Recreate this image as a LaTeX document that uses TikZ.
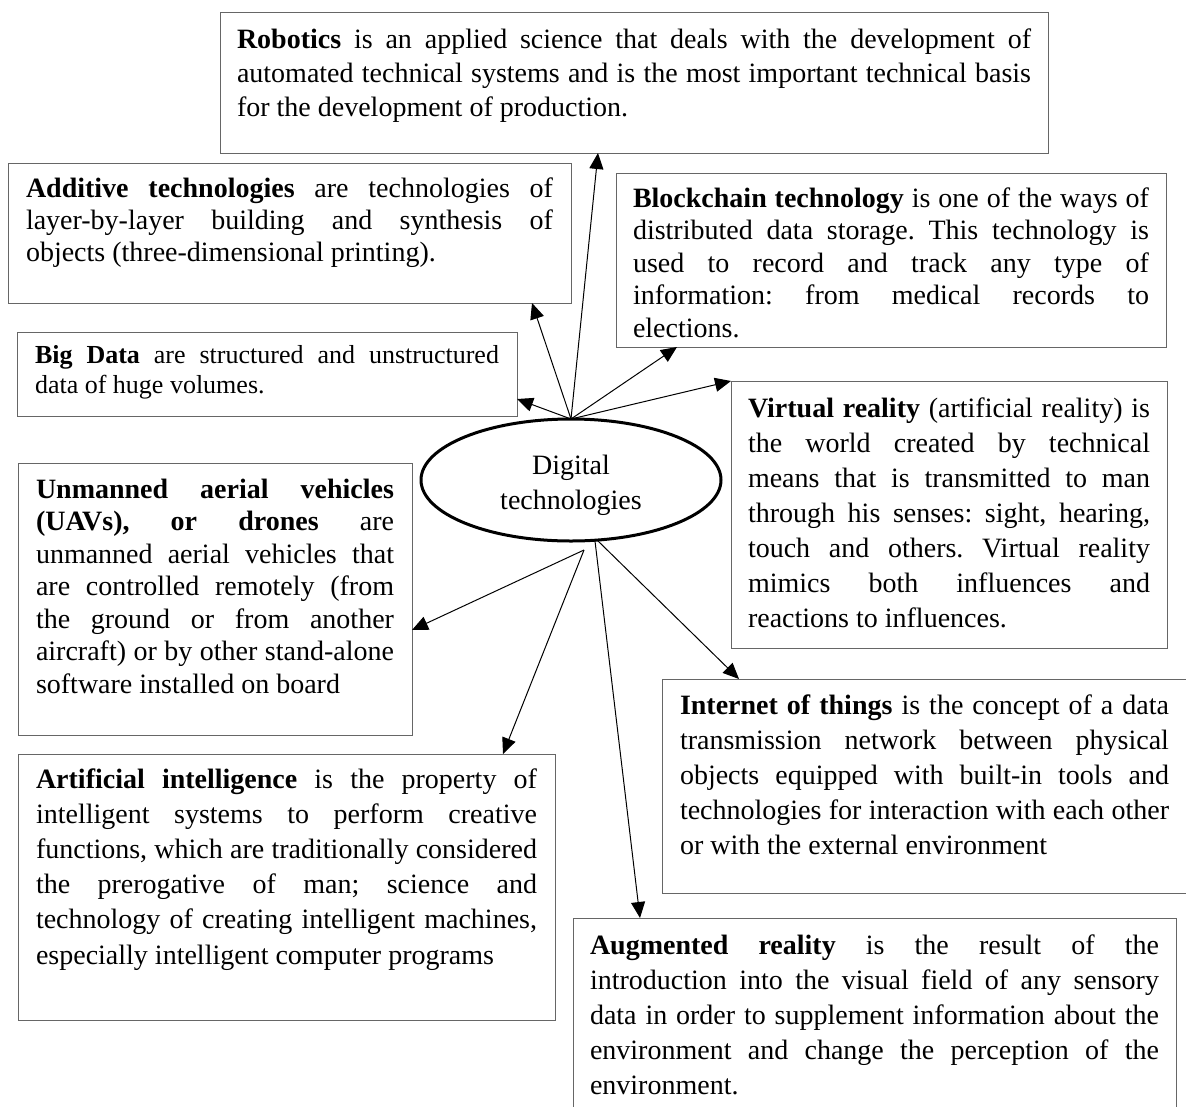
\documentclass[tikz,border=0pt]{standalone}
\usepackage{fontspec}
\setmainfont{Liberation Serif}
\usetikzlibrary{shapes.geometric,arrows.meta,calc}
\frenchspacing
\newcommand\jl[1]{\makebox[\linewidth][s]{#1}\par}
\newcommand\st{\rule{0pt}{20pt}}
\newcommand\boxtext[4]{\begin{minipage}[t][#1][t]{#2}\setlength\parskip{0pt}\frenchspacing\vspace*{#3}#4\end{minipage}}
\begin{document}
\begin{tikzpicture}[x=1pt,y=-1pt,
  box/.style={draw=black!60, line width=1pt, anchor=north west, inner xsep=#1, inner ysep=0pt, outer sep=0pt},
  arr/.style={draw=black, line width=1pt, -{Triangle[length=16pt,width=14pt]}},
  f28/.style={font=\fontsize{28}{#1}\selectfont}]
\useasboundingbox (0,0) rectangle (1186,1106);
\fill[white] (0,0) rectangle (1186,1106);

\node[box=17, f28=34] (rob) at (220,12) {\boxtext{141pt}{794pt}{16pt}{%
\jl{\st\textbf{Robotics} is an applied science that deals with the development of}
\jl{automated technical systems and is the most important technical basis}
for the development of production.\par}};

\node[box=18, f28=32] (add) at (8,163) {\boxtext{140pt}{527pt}{14pt}{%
\jl{\st\textbf{Additive technologies} are technologies of}
\jl{layer-by-layer building and synthesis of}
objects (three-dimensional printing).\par}};

\node[box=17, f28=32.5] (blk) at (616,173) {\boxtext{174pt}{516pt}{14pt}{%
\jl{\st\textbf{Blockchain technology} is one of the ways of}
\jl{distributed data storage. This technology is}
\jl{used to record and track any type of}
\jl{information: from medical records to}
elections.\par}};

\node[box=18, font=\fontsize{26}{30}\selectfont] (big) at (17,332) {\boxtext{84pt}{464pt}{12pt}{%
\jl{\rule{0pt}{19pt}\textbf{Big Data} are structured and unstructured}
data of huge volumes.\par}};

\node[box=17, f28=35] (vr) at (731,381) {\boxtext{267pt}{402pt}{16pt}{%
\jl{\st\textbf{Virtual reality} (artificial reality) is}
\jl{the world created by technical}
\jl{means that is transmitted to man}
\jl{through his senses: sight, hearing,}
\jl{touch and others. Virtual reality}
\jl{mimics both influences and}
reactions to influences.\par}};

\node[box=18, f28=32.5] (uav) at (18,463) {\boxtext{272pt}{358pt}{15pt}{%
\jl{\st\textbf{Unmanned aerial vehicles}}
\jl{\textbf{(UAVs), or drones} are}
\jl{unmanned aerial vehicles that}
\jl{are controlled remotely (from}
\jl{the ground or from another}
\jl{aircraft) or by other stand-alone}
software installed on board\par}};

\node[box=18, f28=35] (iot) at (662,679) {\boxtext{214pt}{489pt}{15pt}{%
\jl{\st\textbf{Internet of things} is the concept of a data}
\jl{transmission network between physical}
\jl{objects equipped with built-in tools and}
\jl{technologies for interaction with each other}
or with the external environment\par}};

\node[box=18, f28=35.2] (ai) at (18,754) {\boxtext{266pt}{501pt}{14pt}{%
\jl{\st\textbf{Artificial intelligence} is the property of}
\jl{intelligent systems to perform creative}
\jl{functions, which are traditionally considered}
\jl{the prerogative of man; science and}
\jl{technology of creating intelligent machines,}
especially intelligent computer programs\par}};

\node[box=17, f28=35] (aug) at (573,918) {\boxtext{212pt}{569pt}{16pt}{%
\jl{\st\textbf{Augmented reality} is the result of the}
\jl{introduction into the visual field of any sensory}
\jl{data in order to supplement information about the}
\jl{environment and change the perception of the}
environment.\par}};

\node[draw=black, ellipse, line width=3pt, minimum width=300pt, minimum height=122pt,
  inner sep=0pt, outer sep=0pt, align=center, f28=35] (dt) at (571,480) {\rule{0pt}{30pt}Digital\\technologies};

\draw[arr] (dt.north) -- ($(rob.south west)+(378,0)$);
\draw[arr] (dt.north) -- ($(add.south west)+(524,0)$);
\draw[arr] (dt.north) -- ($(big.south east)+(0,-17)$);
\draw[arr] (dt.north) -- ($(blk.south west)+(61,0)$);
\draw[arr] (dt.north) -- (vr.north west);
\draw[arr] ($(dt.south)+(13,9)$) -- ($(uav.north east)+(0,167)$);
\draw[arr] ($(dt.south)+(13,9)$) -- ($(ai.north west)+(485,0)$);
\draw[arr] ($(dt.south)+(24,0)$) -- ($(aug.north west)+(67,0)$);
\draw[arr] ($(dt.south)+(27,0)$) -- ($(iot.north west)+(77,0)$);
\end{tikzpicture}
\end{document}
